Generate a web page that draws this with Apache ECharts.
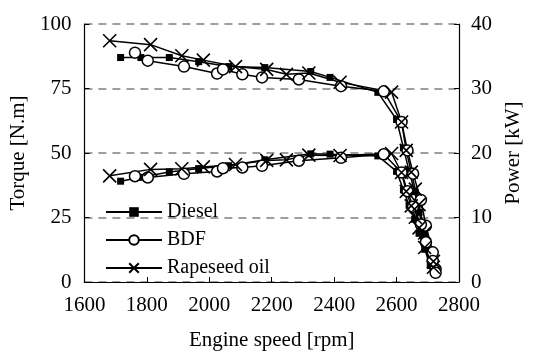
<!DOCTYPE html>
<html>
<head>
<meta charset="utf-8">
<script src="https://cdn.jsdelivr.net/npm/echarts@6/dist/echarts.min.js"></script>
<style>
  html, body { margin: 0; padding: 0; background: #fff; }
  #chart { width: 533px; height: 356px; }
</style>
</head>
<body>
<div id="chart"></div>
<script>
// engine speed [rpm], torque [N.m], power [kW]
const dieselRpm = [1716, 1781, 1872, 1966, 2062, 2178, 2325, 2387, 2540, 2600, 2622, 2640, 2658, 2672, 2690, 2708];
const dieselTorque = [87, 87, 87, 85.4, 83.5, 83.1, 81.6, 79.3, 73.5, 63, 52, 43, 35, 27, 18, 9];
const dieselPower = [15.63, 16.23, 17.06, 17.58, 18.03, 18.95, 19.87, 19.82, 19.55, 17.15, 14.28, 11.89, 9.74, 7.55, 5.07, 2.55];

const bdfRpm = [1762, 1803, 1919, 2025, 2044, 2106, 2169, 2287, 2422, 2559, 2616, 2635, 2653, 2678, 2694, 2716, 2725];
const bdfTorque = [88.9, 85.8, 83.5, 80.8, 82.4, 80.5, 79.3, 78.5, 75.9, 73.9, 62, 51, 42, 31.8, 21.8, 11.5, 5];
const bdfPower = [16.4, 16.2, 16.78, 17.13, 17.64, 17.75, 18.01, 18.8, 19.25, 19.8, 16.98, 14.07, 11.67, 8.92, 6.15, 3.27, 1.43];

const rapeRpm = [1681, 1812, 1912, 1981, 2084, 2184, 2247, 2319, 2419, 2584, 2616, 2631, 2647, 2660, 2672, 2690, 2718];
const rapeTorque = [93.5, 92, 87.7, 86, 83.5, 82.4, 80.5, 81, 77.4, 73.6, 62, 51, 42.6, 36, 30, 19, 8];
const rapePower = [16.46, 17.46, 17.56, 17.84, 18.22, 18.85, 18.94, 19.67, 19.61, 19.92, 16.98, 14.05, 11.81, 10.03, 8.39, 5.35, 2.28];

const xTicks = [1600, 1800, 2000, 2200, 2400, 2600, 2800];

const zip = (xs, ys) => xs.map((x, i) => [x, ys[i]]);
const font = "Liberation Serif";
const X_PATH = "path://M0,0L10,10M10,0L0,10";

const fuels = [
  { name: "Diesel", rpm: dieselRpm, torque: dieselTorque, power: dieselPower,
    symbol: "rect", size: 7, item: { color: "#000" } },
  { name: "BDF", rpm: bdfRpm, torque: bdfTorque, power: bdfPower,
    symbol: "circle", size: 11, item: { color: "#fff", borderColor: "#000", borderWidth: 1.5 } },
  { name: "Rapeseed oil", rpm: rapeRpm, torque: rapeTorque, power: rapePower,
    symbol: X_PATH, size: 13, item: { color: "#000", borderColor: "#000", borderWidth: 1.6 } },
];

const series = [];
fuels.forEach((f) => {
  [[f.torque, 0], [f.power, 1]].forEach(([vals, axis]) => {
    series.push({
      name: f.name,
      type: "line",
      yAxisIndex: axis,
      data: zip(f.rpm, vals),
      symbol: f.symbol,
      symbolSize: f.size,
      showAllSymbol: true,
      lineStyle: { color: "#000", width: 1.5 },
      itemStyle: f.item,
      animation: false,
    });
  });
});

const axisText = { fontFamily: font, fontSize: 21, color: "#000" };

const chart = echarts.init(document.getElementById("chart"), null, { renderer: "canvas" });
chart.setOption({
  backgroundColor: "#fff",
  animation: false,
  textStyle: { fontFamily: font, color: "#000" },
  grid: { left: 75, right: 74, top: 24, bottom: 72 },
  legend: {
    orient: "vertical",
    left: 100,
    top: 197,
    itemWidth: 56,
    itemHeight: 12,
    itemGap: 8,
    data: fuels.map((f) => f.name),
    textStyle: { fontFamily: font, fontSize: 20, color: "#000" },
  },
  xAxis: {
    type: "value",
    min: xTicks[0],
    max: xTicks[xTicks.length - 1],
    interval: 200,
    name: "Engine speed [rpm]",
    nameLocation: "middle",
    nameGap: 48,
    nameTextStyle: axisText,
    axisLine: { lineStyle: { color: "#000", width: 1.2 } },
    axisTick: { inside: true, length: 5, lineStyle: { color: "#000" } },
    axisLabel: { ...axisText, margin: 13, formatter: (v) => String(v) },
    splitLine: { show: false },
  },
  yAxis: [
    {
      type: "value",
      min: 0, max: 100, interval: 25,
      name: "Torque [N.m]",
      nameLocation: "middle",
      nameGap: 44,
      nameTextStyle: axisText,
      axisLine: { show: true, lineStyle: { color: "#000", width: 1.2 } },
      axisTick: { show: true, inside: true, length: 5, lineStyle: { color: "#000" } },
      axisLabel: { ...axisText, margin: 13 },
      splitLine: { show: true, lineStyle: { color: "#7f7f7f", type: [8, 6], width: 1.5 } },
    },
    {
      type: "value",
      min: 0, max: 40, interval: 10,
      name: "Power [kW]",
      nameLocation: "middle",
      nameGap: 44,
      nameRotate: 90,
      nameTextStyle: axisText,
      axisLine: { show: true, lineStyle: { color: "#000", width: 1.2 } },
      axisTick: { show: true, inside: true, length: 5, lineStyle: { color: "#000" } },
      axisLabel: { ...axisText, margin: 12 },
      splitLine: { show: false },
    },
  ],
  series,
});
</script>
</body>
</html>
